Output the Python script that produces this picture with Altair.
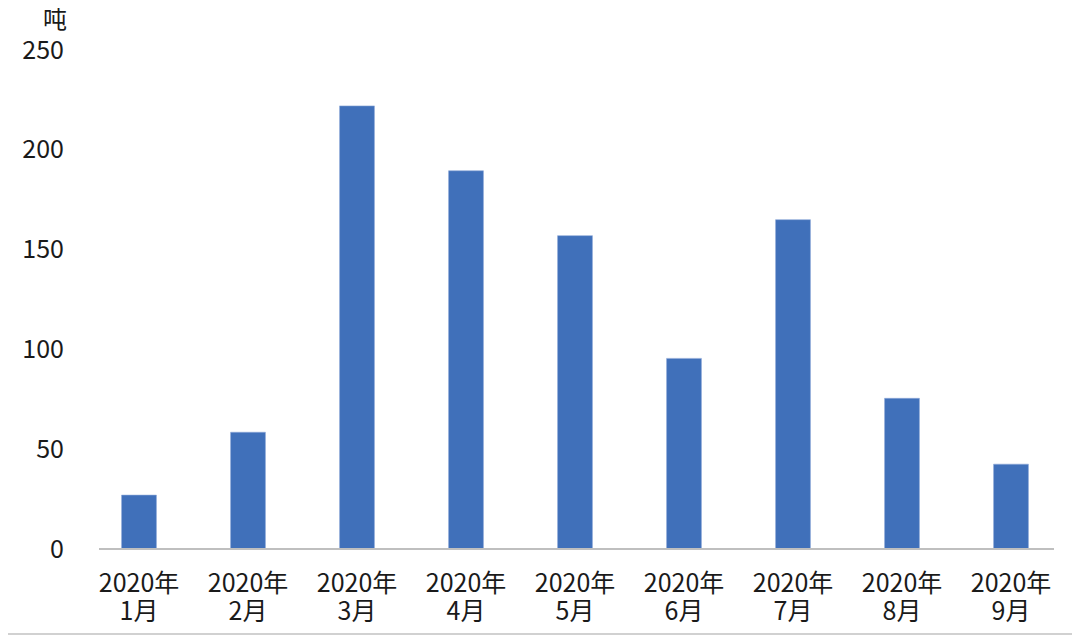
import altair as alt
import pandas as pd

months = ["2020年\n1月", "2020年\n2月", "2020年\n3月", "2020年\n4月", "2020年\n5月",
          "2020年\n6月", "2020年\n7月", "2020年\n8月", "2020年\n9月"]
values = [27, 58.5, 222, 189.5, 157, 95.5, 165, 75.5, 42.5]
y_ticks = [0, 50, 100, 150, 200, 250]
unit = "吨"

df = pd.DataFrame({"month": months, "value": values})

FONT = "Noto Sans CJK SC"
W, H = 981, 499

base = alt.Chart(df)

bars = base.mark_bar(color="#4070BA", stroke="#8FA9D8", strokeWidth=0.6).encode(
    x=alt.X("month:N", sort=months,
            scale=alt.Scale(paddingInner=0.68, paddingOuter=0.34),
            axis=alt.Axis(title=None, domain=False, ticks=False, labelAngle=0,
                          labelExpr="split(datum.label, '\\n')",
                          labelFont=FONT, labelFontSize=25, labelColor="#1a1a1a",
                          labelLineHeight=28, labelPadding=22)),
    y=alt.Y("value:Q", scale=alt.Scale(domain=[0, 250], nice=False),
            axis=alt.Axis(values=y_ticks, title=unit, titleAngle=0,
                          titleFont=FONT, titleFontSize=24, titleFontWeight="normal",
                          titleColor="#1a1a1a", titleX=-30, titleY=-30,
                          titleAlign="center", titleBaseline="middle",
                          domain=False, ticks=False, grid=False,
                          labelFont=FONT, labelFontSize=25, labelColor="#1a1a1a",
                          labelPadding=21)),
)

axis_line = base.mark_rule(color="#BFBFBF", strokeWidth=1.5).encode(
    x=alt.value(14.5), x2=alt.value(969.5), y=alt.value(H)
)

border = base.mark_rule(color="#D0D0D0", strokeWidth=1.5).encode(
    x=alt.value(-76.5), x2=alt.value(987.5), y=alt.value(584)
)

chart = alt.layer(bars, axis_line, border).properties(
    width=W, height=H,
    autosize=alt.AutoSizeParams(type="none"),
    padding={"left": 76.5, "top": 42, "right": 6.5, "bottom": 86},
    background="white",
).configure_view(stroke=None, strokeWidth=0)

chart.save("out.html", embed_options={"renderer": "svg", "actions": False})
